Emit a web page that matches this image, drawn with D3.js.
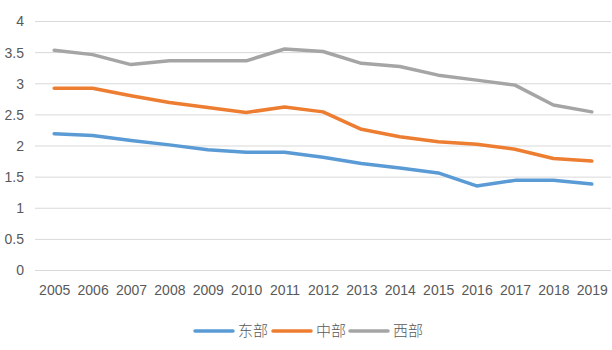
<!DOCTYPE html>
<html lang="zh-CN">
<head>
<meta charset="UTF-8">
<title>东中西部折线图</title>
<style>
    body { margin: 0; padding: 0; background: #fff; }
    svg { display: block; font-family: 'Open Sans', 'DejaVu Sans', sans-serif; }
    .tick text { fill: #595959; }
</style>
</head>
<body>
<svg width="612" height="350"></svg>
<script src="https://d3js.org/d3.v7.min.js"></script>
<script>
// 数据
const years = ["2005","2006","2007","2008","2009","2010","2011","2012","2013","2014","2015","2016","2017","2018","2019"];
const east  = [2.19, 2.16, 2.08, 2.01, 1.93, 1.89, 1.89, 1.81, 1.71, 1.64, 1.56, 1.35, 1.44, 1.44, 1.38];
const mid   = [2.92, 2.92, 2.80, 2.69, 2.61, 2.53, 2.62, 2.54, 2.26, 2.14, 2.06, 2.02, 1.94, 1.79, 1.75];
const west  = [3.53, 3.46, 3.30, 3.36, 3.36, 3.36, 3.55, 3.51, 3.32, 3.27, 3.13, 3.05, 2.97, 2.65, 2.54];
const seriesNames = ["东部", "中部", "西部"];
const yTicks = [0, 0.5, 1, 1.5, 2, 2.5, 3, 3.5, 4];

const colors = ["#5b9bd5", "#ed7d31", "#a5a5a5"];
const series = [east, mid, west];

const svg = d3.select("svg");
const plotLeft = 35, plotRight = 611, plotTop = 21, plotBottom = 270;

const x = d3.scalePoint().domain(years).range([plotLeft, plotRight]).padding(0.5);
const y = d3.scaleLinear().domain([0, 4]).range([plotBottom, plotTop]);

// 网格线 + y 轴
const yAxis = svg.append("g")
    .attr("transform", `translate(${plotLeft},0)`)
    .call(d3.axisLeft(y).tickValues(yTicks).tickSize(-(plotRight - plotLeft)).tickPadding(11).tickFormat(d3.format("")));
yAxis.select(".domain").remove();
yAxis.selectAll("line").attr("stroke", "#d9d9d9").attr("stroke-width", 1);
yAxis.selectAll("text").attr("font-size", "14px").attr("dy", "0.35em");

// x 轴
const xAxis = svg.append("g")
    .attr("transform", `translate(0,${plotBottom})`)
    .call(d3.axisBottom(x).tickSize(0).tickPadding(15));
xAxis.select(".domain").remove();
xAxis.selectAll("text").attr("font-size", "14px");

// 折线
const line = d3.line()
    .x((d, i) => x(years[i]))
    .y(d => y(d));

svg.append("g")
    .selectAll("path")
    .data(series)
    .enter().append("path")
    .attr("fill", "none")
    .attr("stroke", (d, i) => colors[i])
    .attr("stroke-width", 3.5)
    .attr("stroke-linejoin", "round")
    .attr("stroke-linecap", "round")
    .attr("d", line);

// 图例
const legend = svg.append("g").attr("transform", "translate(195,331)");
const lx = [0, 78, 155];
seriesNames.forEach((name, i) => {
    const g = legend.append("g").attr("transform", `translate(${lx[i]},0)`);
    g.append("line")
        .attr("x1", 0).attr("x2", 38)
        .attr("stroke", colors[i]).attr("stroke-width", 3.5).attr("stroke-linecap", "round");
    g.append("text")
        .attr("x", 43).attr("dy", "0.36em")
        .attr("font-size", "15px")
        .attr("font-family", "'Noto Sans CJK SC', sans-serif")
        .attr("font-weight", 300)
        .attr("fill", "#595959")
        .text(name);
});
</script>
</body>
</html>
